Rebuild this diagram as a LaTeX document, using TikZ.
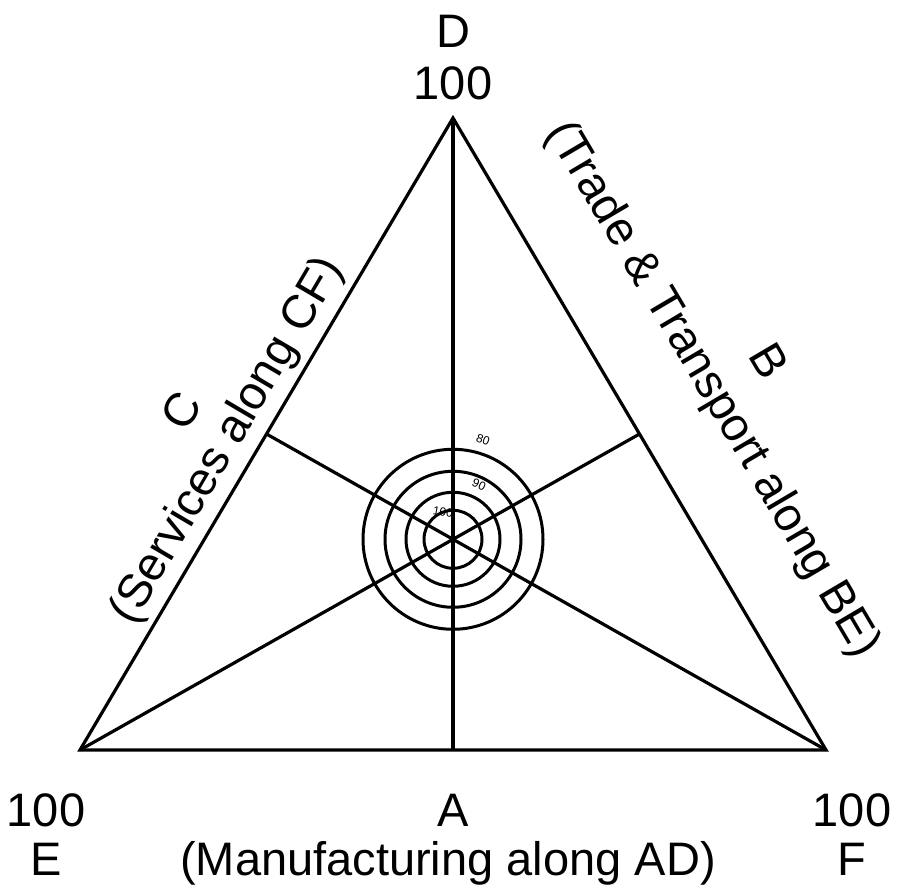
\documentclass[tikz,border=0pt]{standalone}
\usepackage{fontspec}
\setmainfont{Liberation Sans}
\usetikzlibrary{calc}
\begin{document}
\begin{tikzpicture}[x=1pt,y=1pt,
  edge/.style={line width=3.2pt, line join=miter},
  ring/.style={line width=3pt},
  lbl/.style={font=\fontsize{47}{56}\selectfont, inner sep=0pt},
  tiny/.style={font=\fontsize{12}{14}\selectfont, inner sep=0pt}]
\useasboundingbox (0,0) rectangle (897,890);
\coordinate (D) at (453,772);
\coordinate (E) at (80,140);
\coordinate (F) at (826,140);
\coordinate (A) at (453,140);
\coordinate (B) at ($(D)!0.5!(F)$);
\coordinate (C) at ($(D)!0.5!(E)$);
\coordinate (G) at (453,350.7);
% triangle and medians
\draw[edge] (D) -- (E) -- (F) -- cycle;
\draw[edge] (D) -- (A);
\draw[edge] (E) -- (B);
\draw[edge] (F) -- (C);
% rings
\foreach \r in {90,68,47,29} \draw[ring] (G) circle (\r);
\node[tiny, rotate=-20] (l80) at (483,450) {80};
\node[tiny, rotate=-25] (l90) at (479,405) {90};
\node[tiny, rotate=-10] (l100) at (443,378) {100};
% vertex labels
\node[lbl, anchor=base] (dlab) at (453,842) {D};
\node[lbl, anchor=base] (d100) at (453,790) {100};
\node[lbl, anchor=base] (e100) at (46,63) {100};
\node[lbl, anchor=base] (elab) at (46,14) {E};
\node[lbl, anchor=base] (alab) at (453,63) {A};
\node[lbl, anchor=base] (adlab) at (448,14) {(Manufacturing along AD)};
\node[lbl, anchor=base] (f100) at (852,63) {100};
\node[lbl, anchor=base] (flab) at (852,14) {F};
% side labels
\node[lbl, rotate=59.5] (clab) at (181,479) {C};
\node[lbl, rotate=59.5] (cflab) at (228,449) {(Services along CF)};
\node[lbl, rotate=-59.5] (blab) at (769,529) {B};
\node[lbl, rotate=-59.5] (belab) at (712,500) {(Trade \& Transport along BE)};
\end{tikzpicture}
\end{document}
